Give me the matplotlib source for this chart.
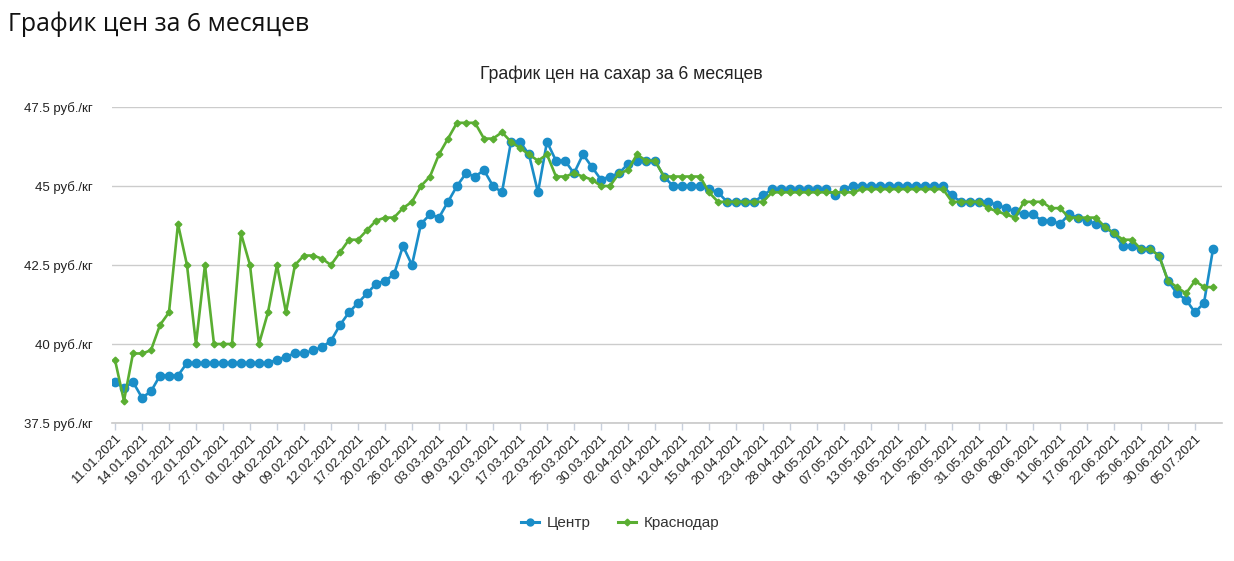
import matplotlib
matplotlib.use("Agg")
import matplotlib.pyplot as plt
from matplotlib.lines import Line2D

dates = [
    "11.01.2021", "12.01.2021", "13.01.2021", "14.01.2021", "15.01.2021", "18.01.2021", "19.01.2021",
    "20.01.2021", "21.01.2021", "22.01.2021", "25.01.2021", "26.01.2021", "27.01.2021", "28.01.2021",
    "29.01.2021",
    "01.02.2021", "02.02.2021", "03.02.2021", "04.02.2021", "05.02.2021", "08.02.2021", "09.02.2021",
    "10.02.2021", "11.02.2021", "12.02.2021", "15.02.2021", "16.02.2021", "17.02.2021", "18.02.2021",
    "19.02.2021", "20.02.2021", "24.02.2021", "25.02.2021", "26.02.2021",
    "01.03.2021", "02.03.2021", "03.03.2021", "04.03.2021", "05.03.2021", "09.03.2021", "10.03.2021",
    "11.03.2021", "12.03.2021", "15.03.2021", "16.03.2021", "17.03.2021", "18.03.2021", "19.03.2021",
    "22.03.2021", "23.03.2021", "24.03.2021", "25.03.2021", "26.03.2021", "29.03.2021", "30.03.2021",
    "31.03.2021",
    "01.04.2021", "02.04.2021", "05.04.2021", "06.04.2021", "07.04.2021", "08.04.2021", "09.04.2021",
    "12.04.2021", "13.04.2021", "14.04.2021", "15.04.2021", "16.04.2021", "19.04.2021", "20.04.2021",
    "21.04.2021", "22.04.2021", "23.04.2021", "26.04.2021", "27.04.2021", "28.04.2021", "29.04.2021",
    "30.04.2021",
    "04.05.2021", "05.05.2021", "06.05.2021", "07.05.2021", "11.05.2021", "12.05.2021", "13.05.2021",
    "14.05.2021", "17.05.2021", "18.05.2021", "19.05.2021", "20.05.2021", "21.05.2021", "24.05.2021",
    "25.05.2021", "26.05.2021", "27.05.2021", "28.05.2021", "31.05.2021",
    "01.06.2021", "02.06.2021", "03.06.2021", "04.06.2021", "07.06.2021", "08.06.2021", "09.06.2021",
    "10.06.2021", "11.06.2021", "15.06.2021", "16.06.2021", "17.06.2021", "18.06.2021", "21.06.2021",
    "22.06.2021", "23.06.2021", "24.06.2021", "25.06.2021", "28.06.2021", "29.06.2021", "30.06.2021",
    "01.07.2021", "02.07.2021", "05.07.2021", "06.07.2021", "07.07.2021",
]

centr = [
    38.8, 38.6, 38.8, 38.3, 38.5, 39.0, 39.0, 39.0,
    39.4, 39.4, 39.4, 39.4, 39.4, 39.4, 39.4, 39.4, 39.4, 39.4,
    39.5, 39.6, 39.7, 39.7, 39.8, 39.9, 40.1, 40.6, 41.0, 41.3, 41.6, 41.9,
    42.0, 42.2, 43.1, 42.5, 43.8, 44.1, 44.0, 44.5, 45.0, 45.4,
    45.3, 45.5, 45.0, 44.8, 46.4, 46.4, 46.0, 44.8, 46.4, 45.8,
    45.8, 45.4, 46.0, 45.6, 45.2, 45.3, 45.4, 45.7, 45.8, 45.8,
    45.8, 45.3, 45.0, 45.0, 45.0, 45.0, 44.9, 44.8, 44.5, 44.5,
    44.5, 44.5, 44.7,
    44.9, 44.9, 44.9, 44.9, 44.9, 44.9, 44.9,
    44.7, 44.9,
    45.0, 45.0, 45.0, 45.0, 45.0, 45.0, 45.0, 45.0, 45.0, 45.0, 45.0,
    44.7, 44.5, 44.5, 44.5, 44.5, 44.4, 44.3, 44.2, 44.1, 44.1,
    43.9, 43.9, 43.8, 44.1, 44.0, 43.9, 43.8, 43.7, 43.5, 43.1,
    43.1, 43.0, 43.0, 42.8, 42.0, 41.6, 41.4, 41.0, 41.3, 43.0,
]

krasnodar = [
    39.5, 38.2, 39.7, 39.7, 39.8, 40.6, 41.0, 43.8, 42.5, 40.0,
    42.5, 40.0, 40.0, 40.0, 43.5, 42.5, 40.0, 41.0, 42.5, 41.0,
    42.5, 42.8, 42.8, 42.7, 42.5, 42.9, 43.3, 43.3, 43.6, 43.9,
    44.0, 44.0, 44.3, 44.5, 45.0, 45.3, 46.0, 46.5, 47.0, 47.0,
    47.0, 46.5, 46.5, 46.7, 46.4, 46.2, 46.0, 45.8, 46.0, 45.3,
    45.3, 45.4, 45.3, 45.2, 45.0, 45.0, 45.4, 45.5, 46.0, 45.8,
    45.8, 45.3, 45.3, 45.3, 45.3, 45.3, 44.8, 44.5, 44.5, 44.5,
    44.5, 44.5, 44.5,
    44.8, 44.8, 44.8, 44.8, 44.8, 44.8, 44.8, 44.8, 44.8, 44.8,
    44.9, 44.9, 44.9, 44.9, 44.9, 44.9, 44.9, 44.9, 44.9, 44.9,
    44.5, 44.5, 44.5, 44.5, 44.3, 44.2, 44.1, 44.0, 44.5, 44.5,
    44.5, 44.3, 44.3, 44.0, 44.0, 44.0, 44.0, 43.7, 43.5, 43.3,
    43.3, 43.0, 43.0, 42.8, 42.0, 41.8, 41.6, 42.0, 41.8, 41.8,
]

yticks = [37.5, 40, 42.5, 45, 47.5]
series_names = ["Центр", "Краснодар"]
page_title = "График цен за 6 месяцев"
chart_title = "График цен на сахар за 6 месяцев"

BLUE = "#1a8dc8"
GREEN = "#5aae32"
FONT = ["Liberation Sans", "DejaVu Sans"]

W, H = 1234, 561
fig = plt.figure(figsize=(W / 100, H / 100), dpi=100)
fig.patch.set_facecolor("white")

L, R, T, B = 112, 1222, 107, 423
ax = fig.add_axes([L / W, 1 - B / H, (R - L) / W, (B - T) / H])

x = list(range(len(dates)))
ax.plot(x, centr, color=BLUE, lw=1.9, marker="o", ms=6, mec=BLUE, mfc=BLUE, zorder=3)
ax.plot(x, krasnodar, color=GREEN, lw=1.9, marker="D", ms=3.4, mec=GREEN, mfc=GREEN, zorder=4)

ax.set_ylim(37.5, 47.5)
ax.set_xlim(-0.33, 123.0)

for s in ["top", "right", "left"]:
    ax.spines[s].set_visible(False)
ax.spines["bottom"].set_color("#c8c8c8")
ax.spines["bottom"].set_linewidth(1.2)

ax.set_yticks(yticks)
ax.set_yticklabels([f"{v:g} руб./кг" for v in yticks], fontsize=9.5,
                   family=FONT, color="#222222")
ax.tick_params(axis="y", length=0, pad=14)
ax.yaxis.grid(True, color="#cccccc", lw=1.0)
ax.set_axisbelow(True)

xt = x[::3]
ax.set_xticks(xt)
ax.set_xticklabels([dates[i] for i in xt], rotation=45, ha="right", va="top",
                   rotation_mode="anchor", fontsize=9.4, family=FONT, color="#222222")
ax.tick_params(axis="x", length=5, width=1, color="#c8d0dc", pad=2)

fig.text(8 / W, 1 - 24 / H, page_title, fontsize=17.9, family=["Open Sans", "DejaVu Sans"],
         ha="left", va="center", color="#111111")
fig.text(621 / W, 1 - 74 / H, chart_title, fontsize=12.7, family=FONT,
         ha="center", va="center", color="#222222")

handles = [
    Line2D([], [], color=BLUE, lw=2.2, marker="o", ms=5, mec=BLUE, mfc=BLUE),
    Line2D([], [], color=GREEN, lw=2.2, marker="D", ms=3.4, mec=GREEN, mfc=GREEN),
]
leg = fig.legend(handles, series_names, loc="center", bbox_to_anchor=(620 / W, 1 - 523 / H),
                 ncol=2, frameon=False, handlelength=1.2, columnspacing=1.8, handletextpad=0.5,
                 prop={"family": FONT, "size": 11})
for t in leg.get_texts():
    t.set_color("#333333")

fig.savefig("out.png", dpi=100, facecolor="white")
